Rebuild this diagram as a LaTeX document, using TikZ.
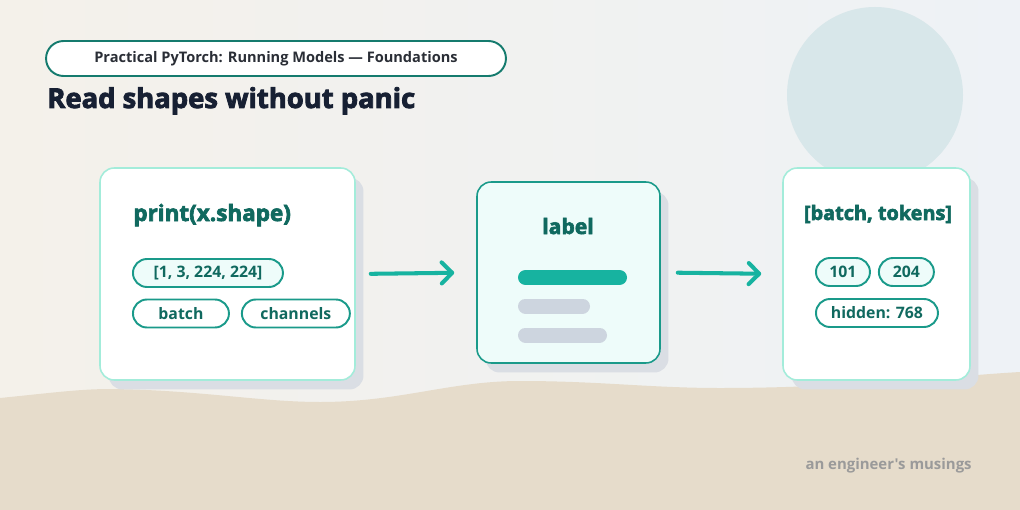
\documentclass[tikz,border=0pt]{standalone}
\usepackage{fontspec}
\setmainfont{Open Sans}
\newfontfamily\heavyfont{Open Sans}[BoldFeatures={FakeBold=3}]
\newfontfamily\rawfont{Open Sans}[Ligatures=TeXOff]
\usetikzlibrary{positioning,arrows.meta,shadows}

\definecolor{bgleft}{HTML}{F4F1EA}
\definecolor{bgright}{HTML}{EEF2F6}
\definecolor{sand}{HTML}{E6DCCB}
\definecolor{moon}{HTML}{D8E7EA}
\definecolor{mint}{HTML}{A3ECDA}
\definecolor{tealline}{HTML}{1A9A8A}
\definecolor{tealtext}{HTML}{10695F}
\definecolor{tealarrow}{HTML}{17B3A0}
\definecolor{paletint}{HTML}{EEFCFA}
\definecolor{bargrey}{HTML}{CDD5DF}
\definecolor{shade}{HTML}{DADEE4}
\definecolor{ink}{HTML}{172033}
\definecolor{subink}{HTML}{2A2E36}
\definecolor{muted}{HTML}{9A9A9A}

\begin{document}
\begin{tikzpicture}[x=0.02cm,y=-0.02cm,
  card/.style={draw=mint,line width=0.9pt,fill=white,rounded corners=8pt,
    drop shadow={shadow xshift=0.17cm,shadow yshift=-0.19cm,fill=shade,opacity=1}},
  pill/.style={draw=tealline,line width=1.1pt,fill=white,rounded corners=0.28cm,
    minimum height=0.56cm,inner sep=0pt,font=\bfseries\fontsize{9}{10}\selectfont,text=tealtext},
  heading/.style={font=\heavyfont\bfseries\fontsize{12}{14}\selectfont,text=tealtext},
  flow/.style={draw=tealarrow,line width=2.3pt,line cap=round,
    -{Straight Barb[length=6pt,width=12pt,round]}},
  bar/.style={line width=0.3cm,line cap=round}]
\useasboundingbox (0,0) rectangle (1020,510);
% backdrop
\fill[left color=bgleft,right color=bgright] (0,0) rectangle (1020,510);
\fill[moon] (875,95) circle (88);
\fill[sand] (0,398) .. controls (50,393) and (80,389) .. (110,389)
  .. controls (200,390) and (260,402) .. (320,402)
  .. controls (400,402) and (450,381) .. (520,381)
  .. controls (600,381) and (650,388) .. (720,388)
  .. controls (850,388) and (950,376) .. (1020,372)
  -- (1020,510) -- (0,510) -- cycle;

% header
\node[draw=tealline!80!black,line width=1.1pt,fill=white,rounded corners=0.35cm,
  minimum width=9.2cm,minimum height=0.7cm,font=\bfseries\fontsize{8.3}{10}\selectfont,
  text=subink] (series) at (276,58.5) {Practical PyTorch: Running Models — Foundations};
\node[anchor=base west,inner sep=0pt,font=\heavyfont\bfseries\fontsize{15.6}{18}\selectfont,text=ink]
  (title) at (47,108) {Read shapes without panic};

% cards
\node[card,minimum width=5.1cm,minimum height=4.24cm] (input) at (227.5,274) {};
\node[card,draw=tealline,fill=paletint,minimum width=3.66cm,minimum height=3.62cm] (mid) at (568.5,272.5) {};
\node[card,minimum width=3.74cm,minimum height=4.24cm] (output) at (876.5,274) {};

% input card
\node[heading,font=\heavyfont\bfseries\fontsize{12.8}{14}\selectfont,anchor=base west,inner sep=0pt]
  (call) at (133,221) {print(x.shape)};
\node[pill,fill=paletint,minimum width=3cm,anchor=west] (dims) at (132,273) {[1, 3, 224, 224]};
\node[pill,minimum width=1.92cm,anchor=west] (batch) at (132,313.5) {batch};
\node[pill,minimum width=2.16cm,right=0.22cm of batch] (chan) {channels};

% middle card
\node[heading,anchor=base,inner sep=0pt] (lbl) at (568,234) {label};
\draw[bar,tealarrow] (525.5,277.5) -- (619.5,277.5);
\draw[bar,bargrey] (525.5,306) -- (582.5,306);
\draw[bar,bargrey] (525.5,335) -- (599.5,335);

% output card
\node[heading,font=\heavyfont\bfseries\fontsize{11.3}{14}\selectfont,anchor=base,inner sep=0pt]
  (dimsname) at (878,220) {[batch, tokens]};
\node[pill,fill=paletint,minimum width=1.08cm,anchor=west] (tokA) at (815,272) {101};
\node[pill,fill=paletint,minimum width=1.1cm,right=0.14cm of tokA] (tokB) {204};
\node[pill,minimum width=2.44cm,anchor=west] (hid) at (815,313) {hidden: 768};

% arrows
\draw[flow,shorten <=0.3cm,shorten >=0.44cm] (input.east) -- (mid.west);
\draw[flow,shorten <=0.34cm,shorten >=0.42cm] (mid.east) -- (output.west);

% footer
\node[anchor=base east,inner sep=0pt,font=\rawfont\bfseries\fontsize{8.5}{10}\selectfont,text=muted]
  (sign) at (972,469) {an engineer's musings};
\end{tikzpicture}
\end{document}
